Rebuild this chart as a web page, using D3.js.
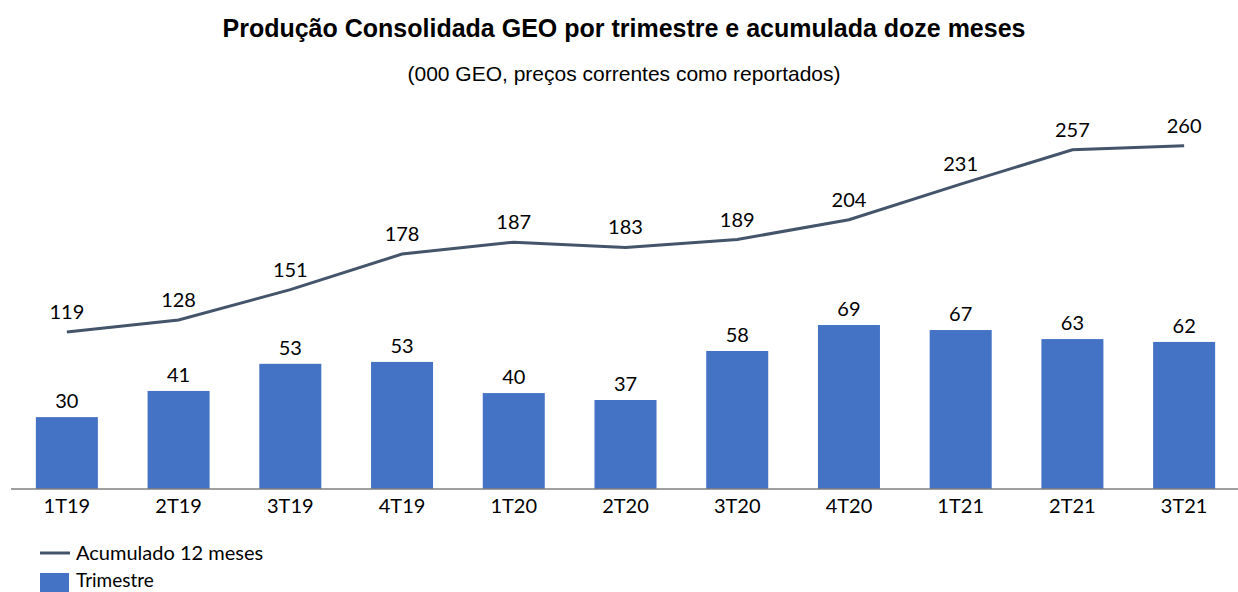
<!DOCTYPE html>
<html>
<head>
<meta charset="utf-8">
<script src="https://cdn.jsdelivr.net/npm/d3@7"></script>
<style>
  body { margin: 0; background: #fff; }
  svg text { font-family: Lato, "Open Sans", sans-serif; fill: #000; }
  .title { font-family: "Liberation Sans", Arial, sans-serif; font-weight: bold; font-size: 25px; }
  .subtitle { font-family: "Liberation Sans", Arial, sans-serif; font-size: 21px; }
</style>
</head>
<body>
<svg id="chart" width="1238" height="592"></svg>
<script>
var categories = ["1T19", "2T19", "3T19", "4T19", "1T20", "2T20", "3T20", "4T20", "1T21", "2T21", "3T21"];
var trimestre = [30.2, 41.2, 52.6, 53.4, 40.3, 37.4, 58, 68.9, 66.8, 63, 61.8];
var acumulado = [119, 128, 151, 178, 187, 183, 189, 204, 231, 257, 260];

var width = 1238
  , height = 592
  , barColor = "#4472c4"
  , lineColor = "#44546a"
  , baseY = 489
  , topY = 93;

var svg = d3.select("#chart");

svg.append("text").attr("class", "title")
   .attr("x", 624).attr("y", 37).attr("text-anchor", "middle")
   .text("Produção Consolidada GEO por trimestre e acumulada doze meses");

svg.append("text").attr("class", "subtitle")
   .attr("x", 624).attr("y", 81).attr("text-anchor", "middle")
   .text("(000 GEO, preços correntes como reportados)");

var x = d3.scaleBand()
    .domain(categories)
    .range([11, 1240])
    .paddingInner(0.445)
    .paddingOuter(0.2225);

var yBar = d3.scaleLinear()
    .domain([0, 166.4])
    .range([baseY, topY]);

var yLine = d3.scaleLinear()
    .domain([0, 300])
    .range([baseY, topY]);

var fmt = d3.format(".0f");

// bars
svg.selectAll(".bar")
   .data(trimestre)
 .enter().append("rect")
   .attr("class", "bar")
   .attr("x", function(d, i) { return x(categories[i]); })
   .attr("y", function(d) { return yBar(d); })
   .attr("width", x.bandwidth())
   .attr("height", function(d) { return baseY - yBar(d); })
   .style("fill", barColor);

svg.selectAll(".barlabel")
   .data(trimestre)
 .enter().append("text")
   .attr("class", "barlabel")
   .attr("x", function(d, i) { return x(categories[i]) + x.bandwidth() / 2; })
   .attr("y", function(d) { return yBar(d) - 9; })
   .attr("text-anchor", "middle")
   .style("font-size", "20px")
   .text(function(d) { return fmt(d); });

// x axis
var xAxis = svg.append("g")
   .attr("transform", "translate(0," + baseY + ")")
   .call(d3.axisBottom(x).tickSize(0).tickPadding(10));
xAxis.select(".domain").attr("d", "M11,0H1238").style("stroke", "#7f7f7f").style("stroke-width", 1.5);
xAxis.selectAll("text")
   .style("font-family", "Lato, 'Open Sans', sans-serif")
   .style("font-size", "20px")
   .style("fill", "#000");

// line
var line = d3.line()
    .x(function(d, i) { return x(categories[i]) + x.bandwidth() / 2; })
    .y(function(d) { return yLine(d); });

svg.append("path")
   .datum(acumulado)
   .attr("d", line)
   .style("fill", "none")
   .style("stroke", lineColor)
   .style("stroke-width", 3);

svg.selectAll(".linelabel")
   .data(acumulado)
 .enter().append("text")
   .attr("class", "linelabel")
   .attr("x", function(d, i) { return x(categories[i]) + x.bandwidth() / 2; })
   .attr("y", function(d) { return yLine(d) - 13; })
   .attr("text-anchor", "middle")
   .style("font-size", "20px")
   .text(function(d) { return d; });

// legend
var legend = svg.append("g");
legend.append("line")
   .attr("x1", 40).attr("x2", 70).attr("y1", 553).attr("y2", 553)
   .style("stroke", lineColor).style("stroke-width", 3);
legend.append("text")
   .attr("x", 76).attr("y", 560)
   .style("font-size", "20px")
   .text("Acumulado 12 meses");
legend.append("rect")
   .attr("x", 40).attr("y", 573).attr("width", 29).attr("height", 19)
   .style("fill", barColor);
legend.append("text")
   .attr("x", 76).attr("y", 587)
   .style("font-size", "19px")
   .text("Trimestre");
</script>
</body>
</html>
